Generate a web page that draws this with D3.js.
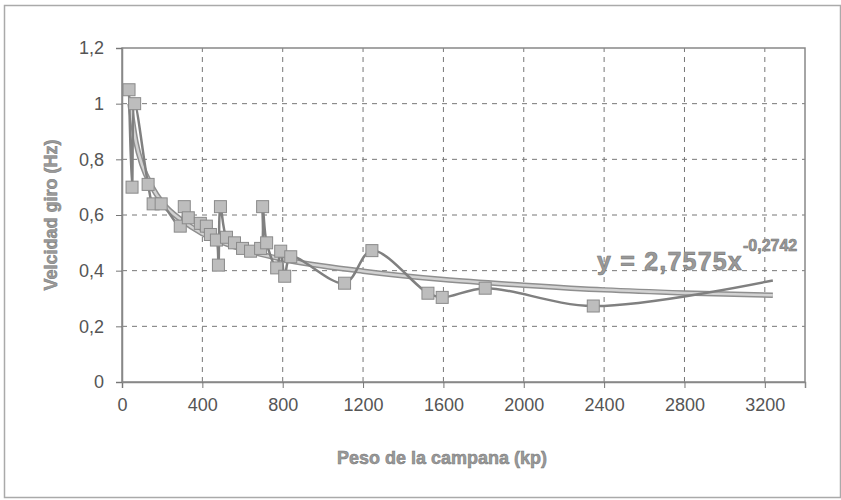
<!DOCTYPE html>
<html>
<head>
<meta charset="utf-8">
<script src="https://cdn.jsdelivr.net/npm/d3@7"></script>
<style>
  body { margin: 0; background: #fff; }
  text { font-family: "Liberation Sans", Arial, sans-serif; }
</style>
</head>
<body>
<div id="chart"></div>
<script>
// measured data (peso kp, velocidad Hz), in drawing order
var pesos = [35, 50, 63, 130, 155, 195, 290, 310, 330, 390, 420, 440, 470, 480, 490, 520, 560, 600, 640, 690, 700, 720, 770, 790, 810, 840, 1108, 1244, 1523, 1594, 1808, 2346, 3240];
var velocidades = [1.05, 0.70, 1.00, 0.71, 0.64, 0.64, 0.56, 0.63, 0.59, 0.57, 0.56, 0.53, 0.51, 0.42, 0.63, 0.52, 0.50, 0.48, 0.47, 0.48, 0.63, 0.50, 0.41, 0.47, 0.38, 0.45, 0.355, 0.472, 0.319, 0.304, 0.337, 0.273, 0.365];

// potential trend line
var trendX = [40, 70, 100, 150, 200, 300, 400, 600, 800, 1200, 1600, 2000, 2400, 2800, 3240];
var trendY = [1.0, 0.86, 0.78, 0.70, 0.645, 0.58, 0.533, 0.477, 0.441, 0.398, 0.368, 0.348, 0.331, 0.32, 0.312];

var xTicks = [0, 400, 800, 1200, 1600, 2000, 2400, 2800, 3200];
var yTicks = [0, 0.2, 0.4, 0.6, 0.8, 1, 1.2];
var ecuacion = "y = 2,7575x";
var exponente = "-0,2742";

var W = 841, H = 500;
var margin = { top: 48, right: 36, bottom: 118, left: 122 };

var svg = d3.select("#chart").append("svg")
    .attr("width", W)
    .attr("height", H);

// outer frame
svg.append("rect")
    .attr("x", 4.5).attr("y", 5.5)
    .attr("width", 836).attr("height", 492)
    .attr("fill", "none")
    .attr("stroke", "#aaa")
    .attr("stroke-width", 1.5);

var x = d3.scaleLinear().domain([0, 3400]).range([margin.left, W - margin.right]);
var y = d3.scaleLinear().domain([0, 1.2]).range([H - margin.bottom, margin.top]);

var fmt = function(d) { return String(d).replace(".", ","); };

// grid
svg.append("g").selectAll("line")
    .data(yTicks.slice(1, -1))
    .enter().append("line")
    .attr("x1", x(0)).attr("x2", x(3400))
    .attr("y1", function(d) { return y(d); })
    .attr("y2", function(d) { return y(d); })
    .attr("stroke", "#777")
    .attr("stroke-dasharray", "5,5");

svg.append("g").selectAll("line")
    .data(xTicks.slice(1))
    .enter().append("line")
    .attr("x1", function(d) { return x(d); })
    .attr("x2", function(d) { return x(d); })
    .attr("y1", y(0)).attr("y2", y(1.2))
    .attr("stroke", "#777")
    .attr("stroke-dasharray", "5,5");

// plot frame
svg.append("rect")
    .attr("x", x(0)).attr("y", y(1.2))
    .attr("width", x(3400) - x(0))
    .attr("height", y(0) - y(1.2))
    .attr("fill", "none")
    .attr("stroke", "#888")
    .attr("stroke-width", 1.5);

// axes
var xAxis = svg.append("g")
    .attr("transform", "translate(0," + y(0) + ")")
    .call(d3.axisBottom(x).tickValues(xTicks).tickSize(6).tickPadding(10).tickFormat(fmt));
var yAxis = svg.append("g")
    .attr("transform", "translate(" + x(0) + ",0)")
    .call(d3.axisLeft(y).tickValues(yTicks).tickSize(6).tickPadding(12).tickFormat(fmt));

[xAxis, yAxis].forEach(function(a) {
    a.select(".domain").attr("stroke", "#888").attr("stroke-width", 1.5);
    a.selectAll(".tick line").attr("stroke", "#777");
    a.selectAll(".tick text")
        .attr("fill", "#555")
        .style("font-size", "18px")
        .style("font-family", "'Liberation Sans', Arial, sans-serif");
});

// trend line (double-line look)
var trendData = trendX.map(function(d, i) { return [d, trendY[i]]; });
var trendLine = d3.line()
    .x(function(d) { return x(d[0]); })
    .y(function(d) { return y(d[1]); })
    .curve(d3.curveMonotoneX);

svg.append("path")
    .datum(trendData)
    .attr("d", trendLine)
    .attr("fill", "none")
    .attr("stroke", "#8f8f8f")
    .attr("stroke-width", 5.5);
svg.append("path")
    .datum(trendData)
    .attr("d", trendLine)
    .attr("fill", "none")
    .attr("stroke", "#d2d2d2")
    .attr("stroke-width", 2.5);

// measured series, smoothed line
var serie = pesos.map(function(d, i) { return [d, velocidades[i]]; });
var line = d3.line()
    .x(function(d) { return x(d[0]); })
    .y(function(d) { return y(d[1]); })
    .curve(d3.curveCatmullRom.alpha(0.5));

svg.append("path")
    .datum(serie)
    .attr("d", line)
    .attr("fill", "none")
    .attr("stroke", "#808080")
    .attr("stroke-width", 2.5);

// markers (last point has no marker)
var ms = 12;
svg.append("g").selectAll("rect")
    .data(serie.slice(0, -1))
    .enter().append("rect")
    .attr("x", function(d) { return x(d[0]) - ms / 2; })
    .attr("y", function(d) { return y(d[1]) - ms / 2; })
    .attr("width", ms).attr("height", ms)
    .attr("fill", "#bdbdbd")
    .attr("stroke", "#8a8a8a")
    .attr("stroke-width", 1);

// equation
var eq = svg.append("text")
    .attr("x", 597).attr("y", 270)
    .attr("fill", "#9a9a9a")
    .attr("stroke", "#777")
    .attr("stroke-width", 0.6)
    .style("font-size", "25px")
    .style("font-weight", "bold")
    .style("letter-spacing", "1.2px");
eq.append("tspan").text(ecuacion);
eq.append("tspan")
    .attr("dy", -19)
    .style("font-size", "16px")
    .style("letter-spacing", "0px")
    .text(exponente);

// axis titles
svg.append("text")
    .attr("x", 442).attr("y", 464)
    .attr("text-anchor", "middle")
    .attr("fill", "#9a9a9a")
    .attr("stroke", "#777")
    .attr("stroke-width", 0.5)
    .style("font-size", "18px")
    .style("font-weight", "bold")
    .text("Peso de la campana (kp)");

svg.append("text")
    .attr("transform", "translate(57,215) rotate(-90)")
    .attr("text-anchor", "middle")
    .attr("fill", "#9a9a9a")
    .attr("stroke", "#777")
    .attr("stroke-width", 0.5)
    .style("font-size", "18px")
    .style("font-weight", "bold")
    .text("Velcidad giro (Hz)");
</script>
</body>
</html>
